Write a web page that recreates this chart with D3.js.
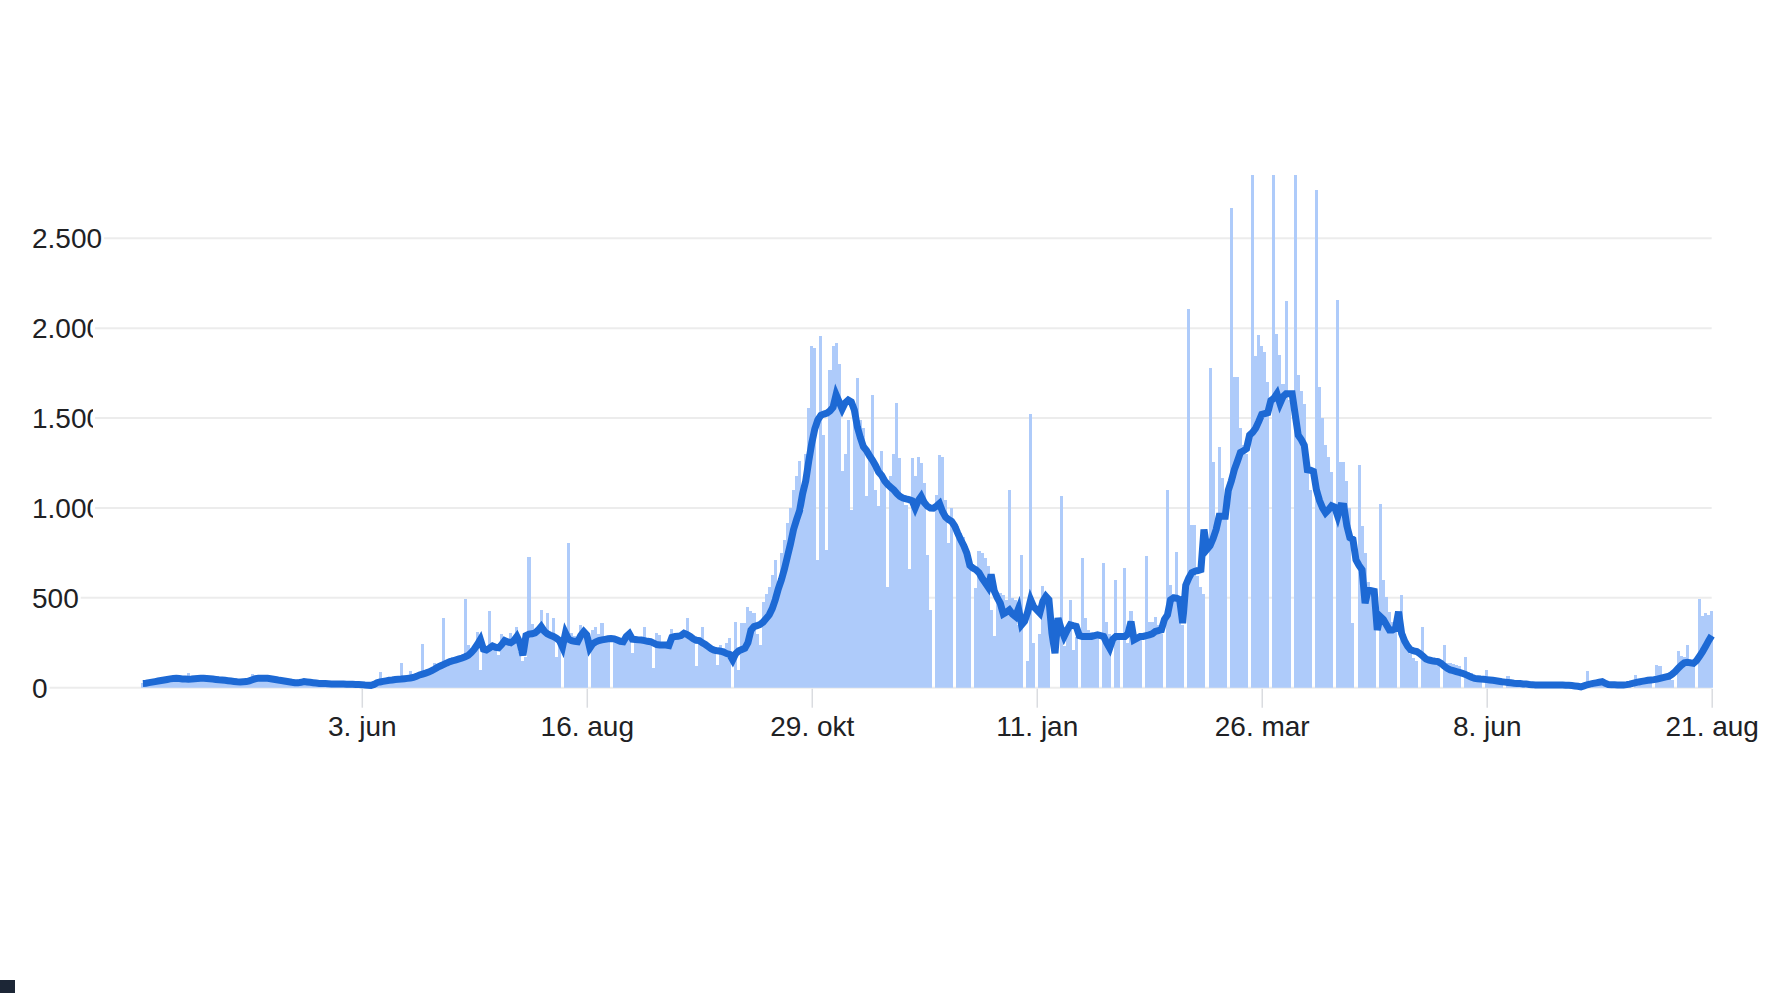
<!DOCTYPE html>
<html>
<head>
<meta charset="utf-8">
<script src="https://cdn.jsdelivr.net/npm/d3@7"></script>
<style>
  html, body { margin: 0; padding: 0; background: #fff; }
  svg { display: block; }
</style>
</head>
<body>
<svg id="chart" width="1766" height="993"></svg>
<script>
// one value per day, rows are weeks (Mon..Sun), first day 23. mar 2020
var startDay = "2020-03-23";

var dailyCases = [
    26, 22, 33, 30, 37, 35, 44,
    45, 50, 52, 48, 58, 47, 44,
    50, 80, 46, 52, 55, 49, 56,
    54, 47, 45, 43, 47, 40, 38,
    36, 34, 38, 30, 29, 36, 37,
    45, 78, 55, 52, 49, 56, 50,
    47, 45, 42, 38, 40, 33, 30,
    28, 26, 29, 35, 38, 30, 27,
    26, 24, 22, 27, 21, 20, 19,
    22, 18, 21, 19, 17, 20, 18,
    17, 19, 16, 12, 13, 11, 25,
    35, 88, 30, 40, 38, 42, 48,
    55, 138, 45, 50, 95, 62, 70,
    90, 245, 80, 95, 100, 135, 120,
    140, 385, 150, 160, 172, 150, 165,
    160, 494, 238, 180, 205, 312, 99,
    250, 230, 424, 247, 220, 180, 300,
    260, 240, 302, 280, 340, 200, 150,
    170, 726, 355, 300, 330, 430, 300,
    414, 300, 390, 173, 260, 0, 280,
    806, 302, 290, 270, 349, 330, 300,
    0, 321, 340, 300, 362, 280, 270,
    0, 284, 275, 260, 250, 300, 265,
    191, 280, 275, 260, 340, 250, 245,
    110, 302, 293, 250, 240, 230, 325,
    290, 285, 300, 310, 390, 290, 260,
    118, 270, 340, 230, 210, 200, 190,
    127, 238, 220, 250, 279, 0, 367,
    101, 362, 362, 448, 424, 414, 300,
    238, 478, 520, 561, 626, 710, 561,
    747, 820, 914, 998, 1100, 1175, 1259,
    990, 1300, 1557, 1900, 1890, 710, 1955,
    1407, 766, 1770, 1900, 1919, 1798, 1203,
    1300, 1491, 990, 1500, 1723, 1491, 1445,
    1064, 1305, 1631, 1100, 1009, 1314, 1150,
    561, 1175, 1300, 1584, 1277, 1046, 1018,
    660, 1277, 1180, 1286, 1249, 1138, 740,
    430, 0, 1073, 1295, 1286, 1046, 804,
    1000, 0, 897, 860, 841, 786, 711,
    0, 553, 758, 749, 721, 675, 433,
    290, 535, 526, 517, 489, 1100, 498,
    489, 350, 740, 0, 150, 1525, 247,
    0, 300, 563, 526, 480, 0, 0,
    0, 1064, 230, 350, 489, 209, 280,
    0, 721, 387, 322, 310, 303, 280,
    0, 693, 368, 300, 0, 600, 280,
    0, 665, 247, 424, 300, 280, 290,
    0, 730, 368, 368, 396, 350, 300,
    0, 1100, 572, 520, 756, 480, 350,
    0, 2106, 906, 906, 620, 560, 520,
    0, 1779, 1253, 906, 1338, 1166, 1000,
    0, 2671, 1727, 1727, 1443, 1350, 1300,
    0, 2950, 1844, 1961, 1900, 1866, 1700,
    0, 2950, 1970, 1850, 1690, 2153, 1600,
    0, 2950, 1741, 1650, 1578, 1300, 1099,
    0, 2771, 1673, 1500, 1348, 1281, 1200,
    0, 2159, 1253, 1253, 1150, 1000, 360,
    0, 1237, 900, 749, 590, 531, 500,
    0, 1020, 600, 502, 420, 368, 330,
    0, 516, 300, 219, 190, 165, 147,
    0, 340, 163, 163, 150, 140, 130,
    0, 238, 136, 136, 130, 125, 120,
    0, 172, 90, 80, 70, 65, 60,
    0, 100, 45, 42, 40, 38, 35,
    0, 63, 30, 28, 26, 25, 24,
    0, 35, 20, 18, 16, 15, 15,
    0, 30, 15, 14, 13, 14, 15,
    0, 25, 10, 8, 6, 5, 94,
    0, 30, 20, 18, 16, 15, 14,
    0, 30, 15, 15, 14, 14, 15,
    0, 70, 35, 33, 32, 30, 30,
    0, 125, 119, 55, 50, 48, 45,
    0, 205, 176, 172, 238, 160, 150,
    0, 492, 400, 414, 405, 424
];

var avgCases = [
    24, 25, 28, 31, 34, 37, 40,
    43, 46, 49, 51, 52, 51, 49,
    48, 47, 48, 50, 51, 52, 52,
    51, 50, 48, 46, 44, 43, 41,
    39, 37, 35, 33, 32, 33, 34,
    38, 44, 50, 53, 52, 53, 52,
    50, 47, 44, 41, 39, 36, 33,
    30, 28, 27, 30, 34, 32, 30,
    28, 26, 24, 24, 23, 22, 21,
    21, 20, 20, 20, 19, 19, 19,
    18, 18, 17, 15, 14, 13, 18,
    28, 32, 35, 38, 41, 43, 46,
    47, 48, 50, 52, 54, 57, 63,
    71, 76, 81, 87, 95, 104, 114,
    122, 130, 138, 145, 150, 155, 160,
    165, 172, 180, 195, 215, 240, 268,
    215, 210, 220, 232, 225, 222, 240,
    262, 255, 250, 262, 285, 250, 180,
    290, 298, 300, 305, 320, 340, 315,
    300, 292, 285, 275, 262, 225, 305,
    270, 262, 258, 256, 290, 312, 293,
    220, 245, 255, 262, 266, 269, 272,
    274, 272, 265, 258, 256, 285, 300,
    270, 268, 266, 265, 262, 258, 256,
    248, 240, 238, 238, 237, 234, 280,
    285, 286, 290, 303, 296, 285, 272,
    264, 262, 250, 240, 228, 215, 208,
    205, 203, 198, 190, 185, 155, 190,
    205, 212, 219, 250, 320, 340, 345,
    352, 365, 385, 405, 440, 489, 550,
    600, 660, 730, 800, 880, 935, 985,
    1080, 1150, 1260, 1360, 1440, 1490, 1515,
    1522, 1528, 1540, 1560, 1630, 1590, 1550,
    1585, 1600, 1590, 1545, 1450, 1390, 1340,
    1320, 1290, 1265, 1235, 1200, 1180, 1150,
    1130, 1115, 1100, 1080, 1064, 1055, 1050,
    1046, 1040, 1000, 1040, 1064, 1030, 1010,
    1000, 999, 1010, 1025, 980, 950, 935,
    925, 900, 860, 823, 790, 749, 680,
    665, 656, 640, 610, 585, 560, 630,
    540, 500, 470, 410, 420, 433, 410,
    396, 440, 350, 370, 420, 489, 450,
    433, 415, 480, 508, 489, 303, 192,
    387, 330, 285, 320, 350, 345, 341,
    290, 285, 285, 285, 285, 290, 294,
    290, 285, 250, 220, 270, 285, 285,
    285, 285, 300, 368, 266, 275, 285,
    285, 290, 294, 300, 313, 318, 322,
    380, 405, 489, 500, 498, 490, 359,
    570, 610, 640, 648, 652, 657, 880,
    770, 790, 830, 880, 954, 954, 954,
    1098, 1150, 1213, 1260, 1309, 1318, 1330,
    1405, 1420, 1443, 1480, 1520, 1525, 1530,
    1597, 1610, 1635, 1581, 1620, 1635, 1635,
    1635, 1520, 1405, 1380, 1348, 1213, 1210,
    1203, 1100, 1041, 1000, 973, 990, 1012,
    1005, 954, 1012, 1010, 900, 835, 825,
    711, 680, 656, 470, 544, 540, 536,
    321, 396, 380, 350, 321, 321, 330,
    423, 303, 260, 230, 210, 205, 201,
    190, 175, 160, 154, 150, 147, 145,
    135, 120, 108, 99, 95, 90, 85,
    80, 74, 66, 58, 52, 50, 48,
    47, 45, 43, 41, 39, 36, 33,
    31, 29, 27, 25, 24, 23, 21,
    20, 18, 17, 15, 15, 15, 15,
    15, 15, 15, 15, 15, 15, 14,
    13, 12, 10, 8, 4, 10, 16,
    20, 24, 27, 30, 33, 24, 18,
    17, 16, 15, 15, 15, 17, 20,
    24, 28, 32, 35, 38, 41, 43,
    45, 48, 52, 56, 60, 64, 75,
    90, 109, 125, 138, 141, 138, 136,
    150, 175, 201, 230, 262, 290
];

var yTicks = [0, 500, 1000, 1500, 2000, 2500];
var clippedLabels = [1000, 1500, 2000];
var xTickDays = ["2020-06-03", "2020-08-16", "2020-10-29", "2021-01-11", "2021-03-26", "2021-06-08", "2021-08-21"];
var xTickLabels = ["3. jun", "16. aug", "29. okt", "11. jan", "26. mar", "8. jun", "21. aug"];

var svg = d3.select("#chart");
var fontFamily = "'Liberation Sans', Arial, Helvetica, sans-serif";
var plotTop = 175, baseline = 687.7, plotLeft = 142.9, plotRight = 1711.7;

svg.append("rect").attr("width", 1766).attr("height", 993).attr("fill", "#fff");

var parseDay = d3.utcParse("%Y-%m-%d");
var t0 = parseDay(startDay);
var days = dailyCases.map(function (v, i) { return d3.utcDay.offset(t0, i); });

var xScale = d3.scaleUtc()
    .domain([t0, days[days.length - 1]])
    .range([plotLeft, plotRight]);
var yScale = d3.scaleLinear()
    .domain([0, 2500])
    .range([baseline, 238.3]);

var nf = d3.formatLocale({decimal: ",", thousands: ".", grouping: [3], currency: ["", ""]}).format(",");

var defs = svg.append("defs");
defs.append("clipPath").attr("id", "plot-clip")
    .append("rect").attr("x", 0).attr("y", plotTop).attr("width", 1766).attr("height", baseline - plotTop);
defs.append("clipPath").attr("id", "label-clip")
    .append("rect").attr("x", 0).attr("y", 0).attr("width", 93).attr("height", 993);

// y labels + gridlines
var yg = svg.append("g");
var labels = yg.selectAll("text.ylab")
    .data(yTicks)
    .enter().append("text")
    .attr("class", "ylab")
    .attr("x", 32)
    .attr("y", function (d) { return yScale(d); })
    .attr("dy", "0.36em")
    .attr("font-family", fontFamily)
    .attr("font-size", 28)
    .attr("fill", "#202124")
    .attr("clip-path", function (d) { return clippedLabels.indexOf(d) >= 0 ? "url(#label-clip)" : null; })
    .text(function (d) { return nf(d); });

labels.each(function (d) {
    var w = this.getComputedTextLength();
    var end = clippedLabels.indexOf(d) >= 0 ? 93 : 32 + w;
    yg.insert("line", "text")
        .attr("x1", end + 2)
        .attr("x2", plotRight)
        .attr("y1", yScale(d))
        .attr("y2", yScale(d))
        .attr("stroke", "#ececec")
        .attr("stroke-width", 2);
});

// bars, edge to edge like the original
var step = xScale(days[1]) - xScale(days[0]);
function barLeft(i) { return Math.round(xScale(d3.utcDay.offset(t0, i)) - step / 2); }

svg.append("g")
    .attr("clip-path", "url(#plot-clip)")
    .attr("shape-rendering", "crispEdges")
    .selectAll("rect")
    .data(dailyCases)
    .enter().append("rect")
    .attr("x", function (d, i) { return barLeft(i); })
    .attr("y", function (d) { return yScale(d); })
    .attr("width", function (d, i) { return barLeft(i + 1) - barLeft(i); })
    .attr("height", function (d) { return baseline - yScale(d); })
    .attr("fill", "#aecbfa");

// x axis
var xAxis = d3.axisBottom(xScale)
    .tickValues(xTickDays.map(parseDay))
    .tickFormat(function (d, i) { return xTickLabels[i]; })
    .tickSize(19)
    .tickPadding(8);

var xg = svg.append("g")
    .attr("transform", "translate(0," + (baseline + 1) + ")")
    .call(xAxis);
xg.select(".domain").remove();
xg.selectAll(".tick line").attr("stroke", "#dadce0").attr("stroke-width", 1.5);
xg.selectAll(".tick text")
    .attr("font-family", fontFamily)
    .attr("font-size", 28)
    .attr("fill", "#202124");

// average line
var line = d3.line()
    .x(function (d, i) { return xScale(days[i]); })
    .y(function (d) { return yScale(d); });

svg.append("path")
    .datum(avgCases)
    .attr("d", line)
    .attr("fill", "none")
    .attr("stroke", "#1d69d4")
    .attr("stroke-width", 7)
    .attr("stroke-linejoin", "miter")
    .attr("stroke-miterlimit", 4);

// little dark corner block from the screenshot
svg.append("rect")
    .attr("x", 0).attr("y", 980)
    .attr("width", 15).attr("height", 13)
    .attr("fill", "#1c2636");
</script>
</body>
</html>
